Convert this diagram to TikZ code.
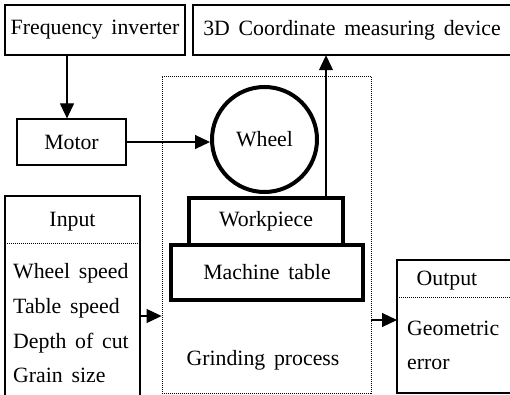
\documentclass[tikz,border=0pt]{standalone}
\usepackage{fontspec}
\setmainfont{Liberation Serif}[WordSpace=1.6]
\usetikzlibrary{arrows.meta,calc}
\begin{document}
\begin{tikzpicture}[x=1pt,y=-1pt,
  every node/.style={font=\fontsize{21.8}{26}\selectfont, inner sep=0pt},
  thinbox/.style={draw, line width=1.2pt},
  thickbox/.style={draw, line width=4pt},
  dotline/.style={line width=0.9pt, dash pattern=on 1pt off 1pt},
  arr/.style={line width=1.1pt, -{Triangle[length=15pt,width=14pt]}},
  txtline/.style={anchor=base west}]
\useasboundingbox (0,0) rectangle (510,395);

% top row: inverter and coordinate measuring device
\node[thinbox, minimum width=180pt, minimum height=50pt] (inv) at (95,30) {Frequency inverter};
\draw[line width=1.2pt] (512,5) -- (193,5) -- (193,55) -- (512,55);
\node[minimum height=50pt] (cmm) at (352,30) {3D Coordinate measuring device};

% motor
\node[thinbox, minimum width=109pt, minimum height=46pt] (motor) at (71.5,142) {Motor};

% grinding process (dotted frame)
\node[draw, dotline, minimum width=209pt, minimum height=317pt] (proc) at (266.5,234.5) {};
\node (grind) at (263,360) {Grinding process};

% wheel, workpiece and machine table
\node[thickbox, circle, minimum size=105pt] (wheel) at (264.5,139.5) {Wheel};
\node[thickbox, minimum width=154pt, minimum height=47pt] (wp) at (266,221.5) {Workpiece};
\node[thickbox, minimum width=192pt, minimum height=55pt] (table) at (267,272.5) {Machine table};

% input box
\draw[line width=1.2pt] (5,397) -- (5,196) -- (140,196) -- (140,397);
\draw[dotline] (5,243) -- (140,243);
\node (inTitle) at (72.5,222) {Input};
\node[txtline] (in1) at (13,278) {Wheel speed};
\node[txtline] (in2) at (13,313) {Table speed};
\node[txtline] (in3) at (13,348) {Depth of cut};
\node[txtline] (in4) at (13,382) {Grain size};

% output box
\draw[line width=1.2pt] (512,260) -- (397,260) -- (397,393) -- (512,393);
\draw[dotline] (397,297) -- (512,297);
\node (outTitle) at (447,281) {Output};
\node[txtline] (out1) at (407,335) {Geometric};
\node[txtline] (out2) at (407,369) {error};

% connectors
\coordinate (drive) at (67,55);
\draw[arr] (drive) -- (drive |- motor.north);
\draw[arr] (motor.east) -- (motor.east -| wheel.west);
\coordinate (probe) at (326,196);
\draw[arr] (probe) -- (probe |- cmm.south);
\coordinate (inR) at (140,316);
\draw[arr] (inR) -- (inR -| proc.west);
\coordinate (outL) at (397,320);
\draw[arr] (outL -| proc.east) -- (outL);
\end{tikzpicture}
\end{document}
